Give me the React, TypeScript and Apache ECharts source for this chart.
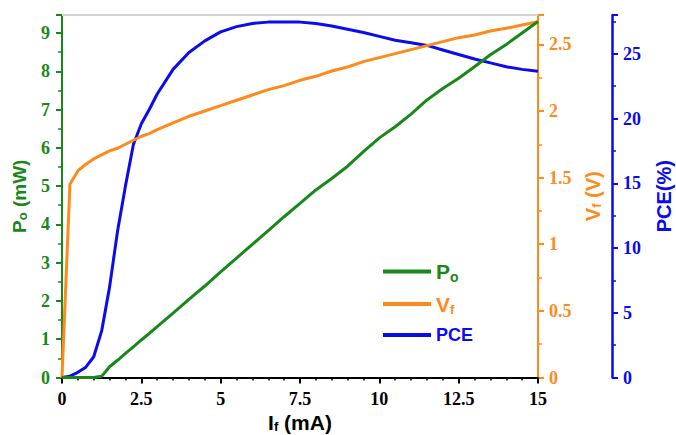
import React, { useEffect, useRef } from "react";
import * as echarts from "echarts";

// Forward current I_f (mA)
const current = [0, 0.25, 0.5, 0.75, 1, 1.25, 1.5, 1.75, 2, 2.25, 2.5, 2.75, 3, 3.5, 4, 4.5, 5, 5.5, 6, 6.5, 7, 7.5, 8, 8.5, 9, 9.5, 10, 10.5, 11, 11.5, 12, 12.5, 13, 13.5, 14, 14.5, 15];
// Output power P_O (mW)
const outputPower = [0, 0, 0, 0, 0, 0.03, 0.28, 0.45, 0.63, 0.8, 0.98, 1.15, 1.33, 1.68, 2.04, 2.39, 2.76, 3.12, 3.48, 3.84, 4.2, 4.55, 4.9, 5.2, 5.52, 5.9, 6.26, 6.55, 6.88, 7.25, 7.55, 7.82, 8.12, 8.43, 8.7, 9.0, 9.3];
// Forward voltage V_f (V)
const forwardVoltage = [0, 1.45, 1.55, 1.6, 1.64, 1.67, 1.7, 1.72, 1.75, 1.78, 1.81, 1.83, 1.86, 1.91, 1.96, 2.0, 2.04, 2.08, 2.12, 2.16, 2.19, 2.23, 2.26, 2.3, 2.33, 2.37, 2.4, 2.43, 2.46, 2.49, 2.52, 2.55, 2.57, 2.6, 2.62, 2.645, 2.67];
// Power conversion efficiency PCE (%)
const pce = [0, 0.1, 0.4, 0.8, 1.6, 3.6, 7.0, 11.3, 14.8, 18.0, 19.6, 20.7, 21.9, 23.8, 25.1, 26.0, 26.7, 27.1, 27.35, 27.45, 27.45, 27.45, 27.35, 27.15, 26.9, 26.65, 26.35, 26.05, 25.85, 25.65, 25.3, 24.95, 24.6, 24.3, 24.0, 23.8, 23.65];

const GREEN = "#1a871a";
const ORANGE = "#ff8a1c";
const BLUE = "#0b0bef";
const SERIF = "Liberation Serif, DejaVu Serif, serif";
const SANS = "Liberation Sans, Arial, sans-serif";

const pairs = (ys: number[]) => current.map((c, i) => [c, ys[i]]);

const nameRich = (color: string, size: number) => ({
  a: { color, fontSize: size, fontWeight: "bold", fontFamily: SANS, lineHeight: 20 },
  s: { color, fontSize: 13, fontWeight: "bold", fontFamily: SANS, lineHeight: 4, verticalAlign: "bottom" },
});

const tickFormatter = (v: number) => String(v);

export default function App() {
  const ref = useRef<HTMLDivElement>(null);
  useEffect(() => {
    if (!ref.current) return;
    const chart = echarts.init(ref.current, undefined, { renderer: "svg" });
    const labelStyle = (color: string, margin: number) => ({
      color,
      margin,
      formatter: tickFormatter,
      showMaxLabel: false,
      fontFamily: SERIF,
      fontWeight: "bold",
      fontSize: 18,
    });
    const yCommon = (color: string, margin: number) => ({
      type: "value",
      splitLine: { show: false },
      axisLine: { show: true, onZero: false, lineStyle: { color, width: 2 } },
      axisTick: { show: true, length: 6, lineStyle: { color, width: 2 } },
      minorTick: { show: true, splitNumber: 2, length: 4, lineStyle: { color, width: 1.5 } },
      axisLabel: labelStyle(color, margin),
      nameLocation: "middle",
    });
    chart.setOption({
      animation: false,
      backgroundColor: "#ffffff",
      textStyle: { fontFamily: SERIF, fontWeight: "bold" },
      grid: { left: 62, right: 138, top: 15, bottom: 57.5, containLabel: false, outerBoundsMode: "none" },
      legend: {
        orient: "vertical",
        left: 378,
        top: 256,
        itemWidth: 48,
        itemHeight: 4,
        itemGap: 10,
        icon: "rect",
        data: ["Po", "Vf", "PCE"],
        formatter: (n: string) => (n === "Po" ? "{ga|P}{gs|o}" : n === "Vf" ? "{oa|V}{os|f}" : "{ba|PCE}"),
        textStyle: {
          rich: {
            ga: { color: GREEN, fontSize: 21, fontWeight: "bold", fontFamily: SANS, lineHeight: 24 },
            gs: { color: GREEN, fontSize: 14, fontWeight: "bold", fontFamily: SANS, lineHeight: 5, verticalAlign: "bottom" },
            oa: { color: ORANGE, fontSize: 21, fontWeight: "bold", fontFamily: SANS, lineHeight: 24 },
            os: { color: ORANGE, fontSize: 13, fontWeight: "bold", fontFamily: SANS, lineHeight: 5, verticalAlign: "bottom" },
            ba: { color: BLUE, fontSize: 18, fontWeight: "bold", fontFamily: SANS, lineHeight: 24 },
          },
        },
      },
      xAxis: [
        {
          type: "value",
          min: 0,
          max: 15,
          interval: 2.5,
          position: "bottom",
          splitLine: { show: false },
          axisLine: { show: true, onZero: false, lineStyle: { color: "#000", width: 2 } },
          axisTick: { show: true, length: 6, lineStyle: { color: "#000", width: 2 } },
          minorTick: { show: true, splitNumber: 5, length: 3, lineStyle: { color: "#000", width: 1.5 } },
          axisLabel: { ...labelStyle("#000", 12), showMaxLabel: true },
          name: "{a|I}{s|f}{a| (mA)}",
          nameLocation: "middle",
          nameGap: 34,
          nameTextStyle: { rich: nameRich("#000", 21) },
        },
        {
          type: "value",
          min: 0,
          max: 15,
          position: "top",
          splitLine: { show: false },
          axisLine: { show: true, onZero: false, lineStyle: { color: "#d3d3d3", width: 2 } },
          axisTick: { show: false },
          axisLabel: { show: false },
        },
      ],
      yAxis: [
        {
          ...yCommon(GREEN, 12),
          position: "left",
          min: 0,
          max: 9.47,
          interval: 1,
          name: "{a|P}{s|o}{a| (mW)}",
          nameGap: 33,
          nameTextStyle: { rich: nameRich(GREEN, 19) },
        },
        {
          ...yCommon(ORANGE, 11),
          position: "right",
          min: 0,
          max: 2.72,
          interval: 0.5,
          name: "{a|V}{s|f}{a| (V)}",
          nameGap: 45,
          nameTextStyle: { rich: nameRich(ORANGE, 20) },
        },
        {
          ...yCommon(BLUE, 11),
          position: "right",
          offset: 74,
          min: 0,
          max: 28,
          interval: 5,
          axisLine: { show: true, onZero: false, lineStyle: { color: BLUE, width: 2.5 } },
          name: "{a|PCE(%)}",
          nameGap: 42,
          nameTextStyle: { rich: nameRich(BLUE, 20) },
        },
      ],
      series: [
        {
          name: "PCE",
          type: "line",
          xAxisIndex: 0,
          yAxisIndex: 2,
          data: pairs(pce),
          symbol: "none",
          lineStyle: { color: BLUE, width: 3 },
          itemStyle: { color: BLUE },
          z: 2,
        },
        {
          name: "Vf",
          type: "line",
          xAxisIndex: 0,
          yAxisIndex: 1,
          data: pairs(forwardVoltage),
          symbol: "none",
          lineStyle: { color: ORANGE, width: 3 },
          itemStyle: { color: ORANGE },
          z: 3,
        },
        {
          name: "Po",
          type: "line",
          xAxisIndex: 0,
          yAxisIndex: 0,
          data: pairs(outputPower),
          symbol: "none",
          lineStyle: { color: GREEN, width: 3 },
          itemStyle: { color: GREEN },
          z: 4,
        },
      ],
    });
    return () => chart.dispose();
  }, []);
  return (
    <div
      ref={ref}
      style={{ position: "absolute", left: 0, top: 0, width: 676, height: 435 }}
    />
  );
}
